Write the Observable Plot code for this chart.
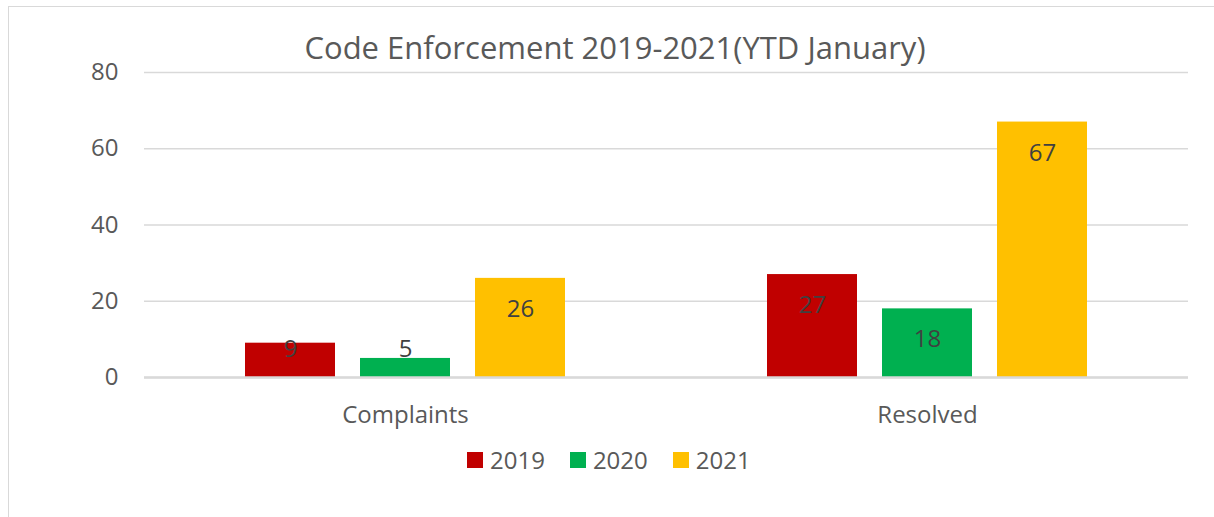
<!DOCTYPE html>
<html>
<head>
<meta charset="utf-8">
<script src="https://cdn.jsdelivr.net/npm/d3@7"></script>
<script src="https://cdn.jsdelivr.net/npm/@observablehq/plot@0.6"></script>
<style>
  html, body { margin: 0; padding: 0; background: #fff; }
  #wrap { position: relative; width: 1214px; height: 517px; overflow: hidden; background: #fff; font-family: "Open Sans", sans-serif; }
  #frame { position: absolute; left: 8px; top: 6px; width: 1400px; height: 700px; border-top: 1.5px solid #d9d9d9; border-left: 1.5px solid #d9d9d9; }
  #title { position: absolute; left: 0; top: 29px; width: 1230px; text-align: center; font-size: 31px; line-height: 36px; color: #595959; }
  #chart { position: absolute; left: 0; top: 0; }
  #legend { position: absolute; left: 467px; top: 443px; }
  #legend [class$="-swatch"] > svg { margin-right: 7px !important; }
  #legend [class$="-swatch"] { margin-right: 25px !important; }
</style>
</head>
<body>
<div id="wrap">
  <div id="frame"></div>
  <div id="chart"></div>
  <div id="title">Code Enforcement 2019-2021(YTD January)</div>
  <div id="legend"></div>
</div>
<script>
const categories = ["Complaints", "Resolved"];
const years = ["2019", "2020", "2021"];
const complaints = [9, 5, 26];
const resolved = [27, 18, 67];
const yTicks = [0, 20, 40, 60, 80];
const colors = ["#C00000", "#00B050", "#FFC000"];

const series = { Complaints: complaints, Resolved: resolved };
const data = categories.flatMap(c => years.map((y, i) => ({ category: c, year: y, value: series[c][i] })));

const chart = Plot.plot({
  width: 1214,
  height: 440,
  marginTop: 72,
  marginBottom: 63,
  marginLeft: 143,
  marginRight: 26,
  style: { fontFamily: "Open Sans, sans-serif", background: "transparent" },
  fx: { domain: categories, padding: 0, label: null },
  x: { domain: years, paddingInner: 0.2155, paddingOuter: 0.86, axis: null },
  y: { domain: [0, 80], axis: null },
  color: { domain: years, range: colors },
  marks: [
    Plot.gridY(yTicks, { stroke: "#d9d9d9", strokeOpacity: 1, strokeWidth: 1.5 }),
    Plot.barY(data, { fx: "category", x: "year", y: "value", fill: "year" }),
    Plot.ruleY([0], { stroke: "#d9d9d9", strokeWidth: 2.5 }),
    Plot.text(data, {
      fx: "category", x: "year",
      y: d => Math.max(d.value - 8.1, 7.3),
      text: d => String(d.value),
      fontSize: 24, fill: "#404040"
    }),
    Plot.axisY({ ticks: yTicks, tickSize: 0, tickPadding: 26, fontSize: 24, color: "#595959", label: null }),
    Plot.axisFx({ anchor: "bottom", tickSize: 0, tickPadding: 28, fontSize: 24, color: "#595959", label: null })
  ]
});
document.getElementById("chart").appendChild(chart);

const legend = Plot.legend({
  color: { type: "ordinal", domain: years, range: colors },
  swatchSize: 16,
  style: { fontSize: "24px", color: "#595959", fontFamily: "Open Sans, sans-serif" }
});
document.getElementById("legend").appendChild(legend);
</script>
</body>
</html>
